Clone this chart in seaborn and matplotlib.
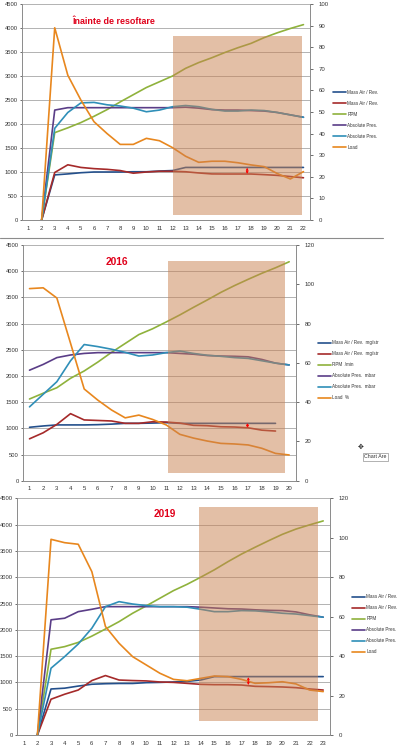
import matplotlib
matplotlib.use("Agg")
import matplotlib.pyplot as plt
from matplotlib.lines import Line2D
import seaborn as sns

sns.set_style("white")
plt.rcParams["font.family"] = ["Liberation Sans", "DejaVu Sans"]

W, H = 399, 750

# ---- panel 1 : "Înainte de resoftare" (categories 1..22, data from 2) ----
p1_cats = list(range(1, 23))
p1_x = list(range(2, 23))
p1_mass_air_a = [0, 940, 960, 985, 1000, 1000, 1000, 1005, 1005, 1020, 1030,
                 1095, 1095, 1095, 1095, 1095, 1095, 1095, 1095, 1095, 1095]
p1_mass_air_b = [0, 990, 1150, 1095, 1070, 1055, 1030, 975, 1000, 1015, 1015,
                 1005, 980, 960, 958, 958, 958, 945, 930, 905, 880]
p1_rpm = [0, 1820, 1920, 2030, 2160, 2300, 2460, 2610, 2760, 2880, 3000,
          3160, 3280, 3380, 3490, 3590, 3680, 3800, 3900, 3990, 4070]
p1_abs_a = [0, 2290, 2340, 2340, 2340, 2340, 2340, 2340, 2340, 2340, 2340,
            2350, 2330, 2300, 2290, 2290, 2280, 2270, 2240, 2190, 2140]
p1_abs_b = [0, 1910, 2240, 2440, 2450, 2400, 2375, 2330, 2255, 2290, 2360,
            2385, 2360, 2305, 2270, 2270, 2290, 2280, 2240, 2190, 2140]
p1_load = [0, 89, 67, 55.5, 45.5, 40, 35, 35, 37.8, 36.7, 33.5,
           29.5, 26.7, 27.2, 27.2, 26.5, 25.5, 24.7, 21.5, 19, 22.4]
p1_labels = ["Mass Air / Rev.", "Mass Air / Rev.", "RPM",
             "Absolute Pres.", "Absolute Pres.", "Load"]

# ---- panel 2 : "2016" (categories 1..20) ----
p2_cats = list(range(1, 21))
p2_x = list(range(1, 21))
p2_x_mass = list(range(1, 20))
p2_mass_air_a = [1020, 1045, 1065, 1065, 1065, 1070, 1080, 1095, 1095, 1100,
                 1108, 1095, 1095, 1095, 1095, 1095, 1095, 1095, 1095]
p2_mass_air_b = [800, 915, 1075, 1280, 1160, 1150, 1140, 1095, 1095, 1125,
                 1120, 1100, 1057, 1050, 1030, 1025, 1010, 965, 948]
p2_rpm = [1560, 1670, 1775, 1955, 2095, 2265, 2450, 2620, 2790, 2900,
          3030, 3165, 3310, 3450, 3595, 3725, 3845, 3960, 4065, 4180]
p2_abs_a = [2110, 2220, 2350, 2400, 2430, 2445, 2445, 2445, 2445, 2445,
            2445, 2430, 2415, 2390, 2380, 2375, 2365, 2315, 2245, 2210]
p2_abs_b = [1410, 1650, 1890, 2290, 2600, 2560, 2510, 2450, 2380, 2400,
            2445, 2475, 2430, 2395, 2375, 2350, 2335, 2290, 2245, 2210]
p2_load = [97.8, 98.2, 93, 70, 46.7, 41, 36, 32, 33.4, 31.2,
           28.4, 23.6, 21.7, 20.2, 19, 18.7, 18.2, 16.5, 13.9, 13.1]
p2_labels = ["Mass Air / Rev.  mg/str", "Mass Air / Rev.  mg/str", "RPM  /min",
             "Absolute Pres.  mbar", "Absolute Pres.  mbar", "Load  %"]

# ---- panel 3 : "2019" (categories 1..23, data from 2) ----
p3_cats = list(range(1, 24))
p3_x = list(range(2, 24))
p3_mass_air_a = [0, 875, 890, 930, 965, 975, 980, 980, 995, 1000, 1008,
                 1020, 1045, 1110, 1110, 1110, 1110, 1110, 1110, 1110, 1110, 1110]
p3_mass_air_b = [0, 680, 775, 855, 1035, 1130, 1045, 1035, 1028, 1008, 1000,
                 982, 963, 957, 957, 950, 925, 920, 913, 900, 875, 855]
p3_rpm = [0, 1630, 1680, 1760, 1880, 2015, 2155, 2315, 2455, 2600, 2745,
          2865, 3000, 3140, 3295, 3440, 3570, 3695, 3815, 3915, 3995, 4070]
p3_abs_a = [0, 2190, 2220, 2345, 2390, 2440, 2440, 2440, 2440, 2440, 2440,
            2440, 2430, 2415, 2400, 2395, 2380, 2370, 2365, 2340, 2285, 2240]
p3_abs_b = [0, 1270, 1490, 1730, 2030, 2440, 2535, 2490, 2460, 2440, 2440,
            2430, 2390, 2345, 2345, 2365, 2360, 2340, 2315, 2300, 2270, 2240]
p3_load = [0, 99.2, 97.5, 96.7, 82.8, 55, 46.5, 39.7, 35.5, 31.3, 28.2,
           27.5, 28.7, 29.9, 29.6, 28.2, 26.2, 26.5, 27, 25.9, 22.8, 22]
p3_labels = p1_labels

COLORS = ["#24508c", "#a52a2a", "#8fb23c", "#5a3d87", "#2f8fb8", "#e8871e"]
GRID = "#a6a6a6"
AXIS = "#8c8c8c"
TXT = "#333333"
SHADE = "#c9804f"

fig = plt.figure(figsize=(W / 100, H / 100), dpi=100)


def rect_px(left, top, right, bottom):
    return [left / W, 1 - bottom / H, (right - left) / W, (bottom - top) / H]


def draw_panel(rect, cats, lines, load_x, load, labels, right_max, right_step,
               title, title_size, title_xy, shade, arrow, legend_xy):
    ax = fig.add_axes(rect)
    ax2 = ax.twinx()
    for (x, y), lab, col in zip(lines, labels[:5], COLORS[:5]):
        sns.lineplot(x=x, y=y, ax=ax, color=col, lw=1.2, label=lab, legend=False)
    sns.lineplot(x=load_x, y=load, ax=ax2, color=COLORS[5], lw=1.2,
                 label=labels[5], legend=False)

    n = len(cats)
    ax.set_xlim(0.5, n + 0.5)
    ax.set_xticks(cats)
    ax.set_xticklabels([str(c) for c in cats])
    ax.set_xticks([c + 0.5 for c in range(0, n + 1)], minor=True)
    ax.set_ylim(0, 4500)
    ax.set_yticks(range(0, 4501, 500))
    ax2.set_ylim(0, right_max)
    ax2.set_yticks(range(0, right_max + 1, right_step))
    for a in (ax, ax2):
        a.set_xlabel("")
        a.set_ylabel("")
    ax.yaxis.grid(True, color=GRID, lw=0.6)
    ax.set_axisbelow(True)

    ax.tick_params(axis="x", which="major", length=0, labelsize=4.3,
                   colors=TXT, pad=4)
    ax.tick_params(axis="x", which="minor", length=2, color=AXIS, width=0.5,
                   direction="out")
    ax.tick_params(axis="y", length=1.5, labelsize=4.2, colors=TXT, pad=1.5,
                   width=0.5)
    ax2.tick_params(axis="y", length=2, labelsize=4.3, colors=TXT, pad=4,
                    width=0.5)
    for a in (ax, ax2):
        a.spines["top"].set_visible(False)
        for s in ("left", "right", "bottom"):
            a.spines[s].set_color(AXIS)
            a.spines[s].set_linewidth(0.6)

    # shaded zone, over the lines
    x0, x1, y0, y1 = shade
    ax2.axvspan(x0, x1, y0, y1, color=SHADE, alpha=0.5, lw=0, zorder=5)

    # red double arrow between the two Mass Air lines
    ax_x, a_lo, a_hi = arrow
    ax2.annotate("", xy=(ax_x, a_lo), xytext=(ax_x, a_hi),
                 xycoords=ax.transData, textcoords=ax.transData,
                 arrowprops=dict(arrowstyle="<->", color="red", lw=0.7,
                                 mutation_scale=3, shrinkA=0, shrinkB=0),
                 zorder=8)

    ax2.text(title_xy[0], title_xy[1], title, transform=ax.transAxes,
             color="#e0001a", fontsize=title_size, fontweight="bold",
             ha="center", va="center", zorder=9)

    h1, l1 = ax.get_legend_handles_labels()
    h2, l2 = ax2.get_legend_handles_labels()
    fig.legend(h1 + h2, l1 + l2, loc="upper left",
               bbox_to_anchor=(legend_xy[0] / W, 1 - legend_xy[1] / H),
               frameon=False, fontsize=3.3, handlelength=2.8,
               handletextpad=0.3, labelspacing=1.3, borderpad=0,
               borderaxespad=0, labelcolor=TXT)
    return ax, ax2


draw_panel(rect_px(22, 4, 310, 220), p1_cats,
           [(p1_x, p1_mass_air_a), (p1_x, p1_mass_air_b), (p1_x, p1_rpm),
            (p1_x, p1_abs_a), (p1_x, p1_abs_b)],
           p1_x, p1_load, p1_labels, 100, 10,
           "Înainte de resoftare", 6.4, (0.32, 0.92),
           (12.03, 21.87, 0.023, 0.852), (17.7, 960, 1090), (333, 90))

draw_panel(rect_px(22.7, 245, 296, 480.7), p2_cats,
           [(p2_x_mass, p2_mass_air_a), (p2_x_mass, p2_mass_air_b),
            (p2_x, p2_rpm), (p2_x, p2_abs_a), (p2_x, p2_abs_b)],
           p2_x, p2_load, p2_labels, 120, 20,
           "2016", 7.4, (0.345, 0.928),
           (11.1, 19.69, 0.034, 0.933), (16.95, 1010, 1100), (318, 340.5))

draw_panel(rect_px(17, 498.3, 330, 735), p3_cats,
           [(p3_x, p3_mass_air_a), (p3_x, p3_mass_air_b), (p3_x, p3_rpm),
            (p3_x, p3_abs_a), (p3_x, p3_abs_b)],
           p3_x, p3_load, p3_labels, 120, 20,
           "2019", 7.2, (0.471, 0.934),
           (13.88, 22.65, 0.060, 0.964), (17.5, 950, 1100), (352, 594.5))

# separator under the first chart
fig.add_artist(Line2D([0, 383 / W], [1 - 238 / H, 1 - 238 / H],
                      color=AXIS, lw=0.8))

# leftover Excel tooltip
fig.text(361 / W, 1 - 447 / H, "✥", fontsize=5, color="#222222",
         ha="center", va="center", family=["DejaVu Sans"])
fig.text(364 / W, 1 - 457 / H, "Chart Are", fontsize=3.8, color=TXT,
         ha="left", va="center",
         bbox=dict(boxstyle="square,pad=0.25", fc="white", ec="#777777",
                   lw=0.4))

fig.savefig("out.png", dpi=100)
